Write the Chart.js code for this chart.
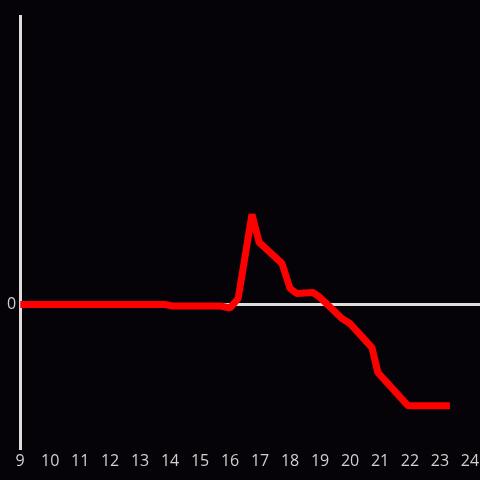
<!DOCTYPE html>
<html><head><meta charset="utf-8">
<script src="https://cdn.jsdelivr.net/npm/chart.js@4/dist/chart.umd.min.js"></script>
<style>html,body{margin:0;padding:0;background:#050308;}#w{width:480px;height:480px;}</style>
</head><body><div id="w"><canvas id="c"></canvas></div>
<script>
const xValues = [9, 13.83, 14.07, 15.67, 16.0, 16.27, 16.73, 16.97, 17.73, 18.0, 18.23, 18.77, 19.0, 19.73, 20.0, 20.73, 20.93, 21.93, 23.33];
const yValues = [0, 0, -0.01, -0.01, -0.024, 0.042, 0.625, 0.431, 0.285, 0.111, 0.076, 0.083, 0.049, -0.097, -0.132, -0.299, -0.472, -0.701, -0.701];
const xTickLabels = [9,10,11,12,13,14,15,16,17,18,19,20,21,22,23,24];
const yTickLabels = [0];

new Chart(document.getElementById('c'), {
  type: 'line',
  data: { datasets: [{
    data: xValues.map((x,i)=>({x:x,y:yValues[i]})),
    borderColor: '#ff0000', borderWidth: 7, borderJoinStyle: 'bevel', pointRadius: 0, tension: 0, fill: false
  }]},
  options: {
    responsive: true, maintainAspectRatio: false, animation: false,
    layout: { padding: { top: 16, left: 3, right: 0, bottom: 6 } },
    plugins: { legend: { display: false }, tooltip: { enabled: false } },
    scales: {
      x: { type: 'linear', min: 9, max: 24 + 1/3,
        afterBuildTicks: s => { s.ticks = xTickLabels.map(v=>({value:v})); },
        afterFit: s => { s.paddingRight = 0; },
        grid: { display: false, drawTicks: false }, border: { display: false },
        ticks: { color: '#d0d0d0', font: { family: 'Open Sans', size: 16 }, padding: 3, maxRotation: 0, autoSkip: false }
      },
      y: { min: -1, max: 2,
        afterBuildTicks: s => { s.ticks = yTickLabels.map(v=>({value:v})); },
        grid: { color: '#dddddd', lineWidth: 3, drawTicks: false },
        border: { display: true, color: '#dddddd', width: 3 },
        ticks: { color: '#d0d0d0', font: { family: 'Open Sans', size: 16 }, padding: 4 }
      }
    }
  }
});
</script></body></html>
